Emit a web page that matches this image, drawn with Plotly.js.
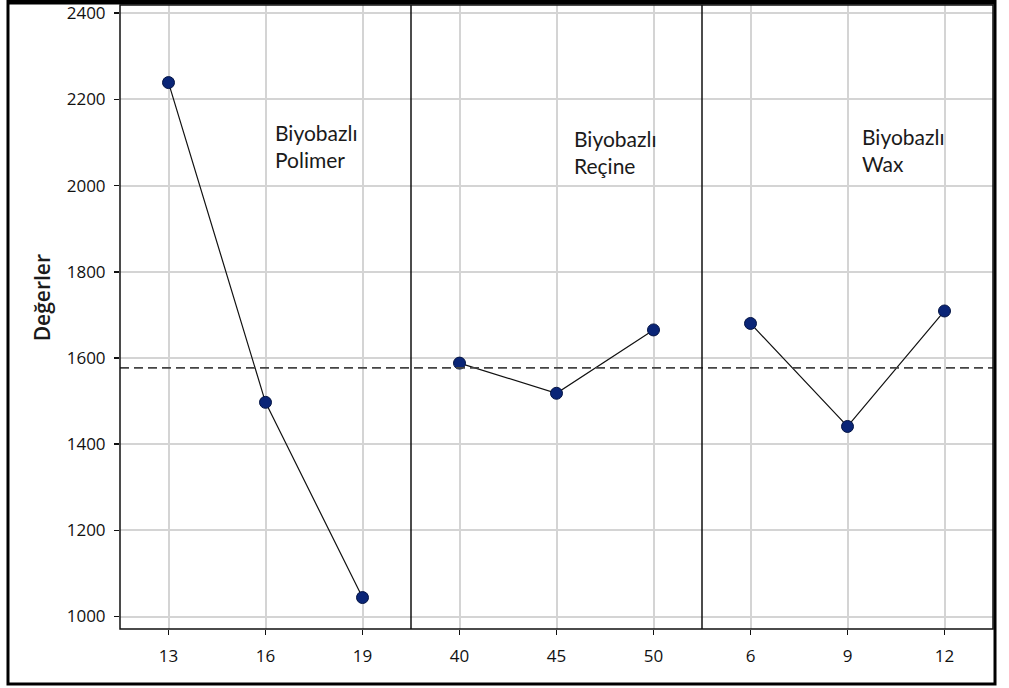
<!DOCTYPE html>
<html>
<head>
<meta charset="utf-8">
<script src="https://cdn.plot.ly/plotly-3.0.1.min.js"></script>
<style>html,body{margin:0;padding:0;background:#fff;}#chart{width:1009px;height:688px;}</style>
</head>
<body>
<div id="chart"></div>
<script>
// Data
var polimerX = [13, 16, 19];
var polimerY = [2239, 1497, 1044];
var receineX = [40, 45, 50];
var receineY = [1588, 1518, 1665];
var waxX = [6, 9, 12];
var waxY = [1680, 1441, 1709];
var grandMean = 1577;
var panelLabels = ["Biyobazlı<br>Polimer", "Biyobazlı<br>Reçine", "Biyobazlı<br>Wax"];
var yTicks = [1000, 1200, 1400, 1600, 1800, 2000, 2200, 2400];
var yTitle = "Değerler";

var markerStyle = {size: 12, color: '#0a2577', line: {color: '#041444', width: 1}};
var lineStyle = {color: '#111', width: 1.2};

function tr(x, y, xa) {
  return {x: x, y: y, xaxis: xa, yaxis: 'y', type: 'scatter', mode: 'lines+markers',
          marker: markerStyle, line: lineStyle, hoverinfo: 'x+y', showlegend: false};
}

var traces = [tr(polimerX, polimerY, 'x'), tr(receineX, receineY, 'x2'), tr(waxX, waxY, 'x3')];

var tickFont = {family: 'Open Sans, sans-serif', size: 17, color: '#111', weight: 500};
function xax(dom, vals, rng) {
  return {domain: dom, range: rng, tickvals: vals, ticktext: vals.map(String),
          showgrid: true, gridcolor: '#d4d4d4', gridwidth: 2, zeroline: false,
          showline: false, ticks: 'outside', ticklen: 5, tickwidth: 1.5, tickcolor: '#111',
          ticklabelstandoff: 7, tickfont: tickFont, anchor: 'y', fixedrange: true};
}

var labelFont = {family: 'Lato, sans-serif', size: 21, color: '#1a1a1a'};
var layout = {
  width: 1009, height: 688,
  margin: {l: 120, r: 16, t: 5, b: 59},
  paper_bgcolor: '#fff', plot_bgcolor: '#fff',
  xaxis: xax([0, 1/3], polimerX, [11.5, 20.5]),
  xaxis2: xax([1/3, 2/3], receineX, [37.5, 52.5]),
  xaxis3: xax([2/3, 1], waxX, [4.5, 13.5]),
  yaxis: {range: [971, 2419], tickvals: yTicks, ticktext: yTicks.map(String),
          showgrid: true, gridcolor: '#d4d4d4', gridwidth: 2, zeroline: false,
          showline: false, ticks: 'outside', ticklen: 5, tickwidth: 1.5, tickcolor: '#111',
          ticklabelstandoff: 5, tickfont: tickFont, fixedrange: true},
  shapes: [
    {type: 'line', xref: 'paper', yref: 'y', x0: 0, x1: 1, y0: grandMean, y1: grandMean,
     line: {color: '#444', width: 1.8, dash: '9px,5px'}, layer: 'above'},
    {type: 'line', xref: 'paper', yref: 'paper', x0: 1/3, x1: 1/3, y0: 0, y1: 1,
     line: {color: '#111', width: 1.5}},
    {type: 'line', xref: 'paper', yref: 'paper', x0: 2/3, x1: 2/3, y0: 0, y1: 1,
     line: {color: '#111', width: 1.5}},
    {type: 'rect', xref: 'paper', yref: 'paper', x0: 0, x1: 1, y0: 0, y1: 1,
     line: {color: '#111', width: 1.5}},
    {type: 'line', xref: 'paper', yref: 'paper', x0: -0.1283, x1: 1.0023, y0: 1.0048, y1: 1.0048,
     line: {color: '#000', width: 5}},
    {type: 'rect', xref: 'paper', yref: 'paper', x0: -0.1283, x1: 1.0023, y0: -0.0881, y1: 1.0064,
     line: {color: '#000', width: 3}}
  ],
  annotations: [
    {text: panelLabels[0], xref: 'paper', yref: 'paper', x: 0.1753, y: 0.774,
     xanchor: 'left', yanchor: 'middle', align: 'left', showarrow: false, font: labelFont},
    {text: panelLabels[1], xref: 'paper', yref: 'paper', x: 0.5178, y: 0.764,
     xanchor: 'left', yanchor: 'middle', align: 'left', showarrow: false, font: labelFont},
    {text: panelLabels[2], xref: 'paper', yref: 'paper', x: 0.8477, y: 0.767,
     xanchor: 'left', yanchor: 'middle', align: 'left', showarrow: false, font: labelFont},
    {text: yTitle, xref: 'paper', yref: 'paper', x: -0.0893, y: 0.53,
     xanchor: 'center', yanchor: 'middle', textangle: -90, showarrow: false,
     font: {family: 'Open Sans, sans-serif', size: 21, color: '#1a1a1a', weight: 600}}
  ]
};

Plotly.newPlot('chart', traces, layout, {displayModeBar: false, staticPlot: true});
</script>
</body>
</html>
